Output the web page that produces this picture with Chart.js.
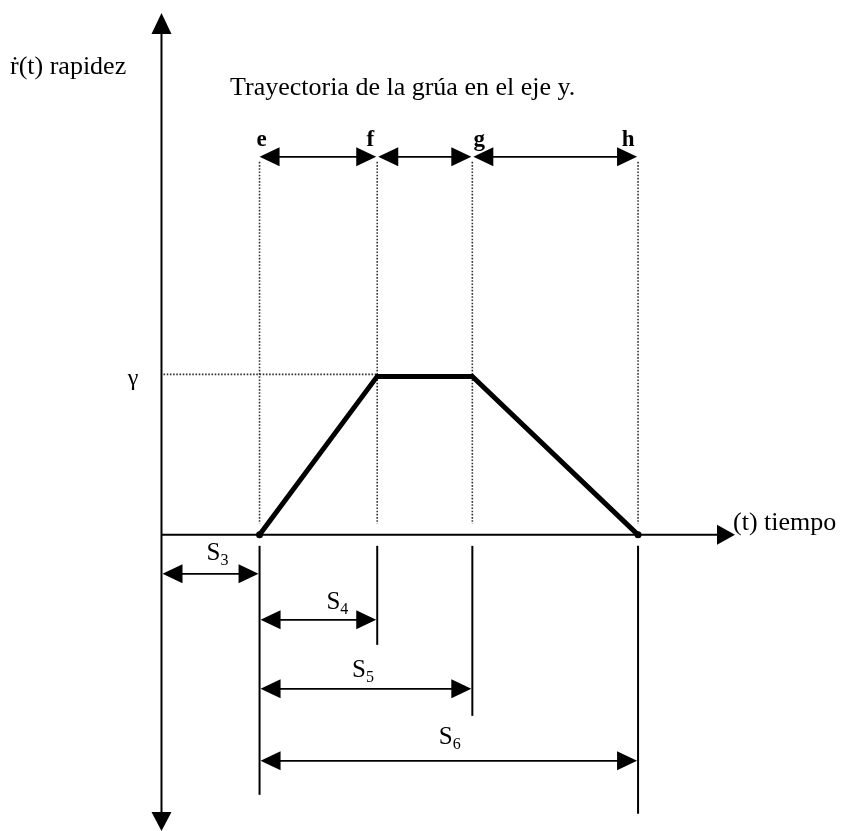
<!DOCTYPE html>
<html>
<head>
<meta charset="utf-8">
<script src="https://cdn.jsdelivr.net/npm/chart.js@4"></script>
<style>
html,body{margin:0;padding:0;background:#fff;}
#wrap{width:842px;height:831px;}
</style>
</head>
<body>
<div id="wrap"><canvas id="c" width="842" height="831"></canvas></div>
<script>
// ---- data ----
const pointLabels = ['e', 'f', 'g', 'h'];
const tPoints = [1.0, 2.2, 3.17, 4.86];       // time of e, f, g, h
const speed = [0, 1, 1, 0];                   // speed profile (γ = 1)
const gammaLabel = 'γ';
const yAxisTitle = 'ṙ(t) rapidez';
const xAxisTitle = '(t) tiempo';
const chartTitle = 'Trayectoria de la grúa en el eje y.';
const spanSubs = ['3', '4', '5', '6'];
const spanStartIdx = [-1, 0, 0, 0];           // -1 = origin
const spanEndIdx = [0, 1, 2, 3];

const SERIF = '"Liberation Serif", "Times New Roman", serif';

function arrowHead(ctx, x, y, dir, len, half) {
  ctx.beginPath();
  if (dir === 'l') { ctx.moveTo(x, y); ctx.lineTo(x + len, y - half); ctx.lineTo(x + len, y + half); }
  if (dir === 'r') { ctx.moveTo(x, y); ctx.lineTo(x - len, y - half); ctx.lineTo(x - len, y + half); }
  if (dir === 'u') { ctx.moveTo(x, y); ctx.lineTo(x - half, y + len); ctx.lineTo(x + half, y + len); }
  if (dir === 'd') { ctx.moveTo(x, y); ctx.lineTo(x - half, y - len); ctx.lineTo(x + half, y - len); }
  ctx.closePath();
  ctx.fill();
}

function dimLine(ctx, x1, x2, y) {
  ctx.lineWidth = 1.8;
  ctx.beginPath(); ctx.moveTo(x1 + 4, y); ctx.lineTo(x2 - 4, y); ctx.stroke();
  arrowHead(ctx, x1, y, 'l', 20, 9.5);
  arrowHead(ctx, x2, y, 'r', 20, 9.5);
}

function subLabel(ctx, base, sub, cx, cy) {
  ctx.font = '25px ' + SERIF;
  const w1 = ctx.measureText(base).width;
  ctx.font = '16px ' + SERIF;
  const w2 = ctx.measureText(sub).width;
  const x0 = cx - (w1 + w2) / 2;
  ctx.textBaseline = 'alphabetic';
  ctx.textAlign = 'left';
  ctx.font = '25px ' + SERIF;
  ctx.fillText(base, x0, cy + 8);
  ctx.font = '16px ' + SERIF;
  ctx.fillText(sub, x0 + w1, cy + 13);
}

const diagram = {
  id: 'diagram',
  beforeDatasetsDraw(chart) {
    const ctx = chart.ctx;
    const xs = chart.scales.x, ys = chart.scales.y;
    const ox = xs.getPixelForValue(0), oy = ys.getPixelForValue(0);
    const gy = ys.getPixelForValue(speed[1]);
    const px = tPoints.map(t => xs.getPixelForValue(t));
    ctx.save();
    ctx.fillStyle = '#000'; ctx.strokeStyle = '#000';

    // dotted guides
    ctx.strokeStyle = '#333';
    ctx.lineWidth = 1.6;
    ctx.setLineDash([1.6, 1.6]);
    const topArrowY = oy - 378;
    px.forEach(x => { ctx.beginPath(); ctx.moveTo(x, topArrowY + 5); ctx.lineTo(x, oy - 11); ctx.stroke(); });
    ctx.beginPath(); ctx.moveTo(ox + 2, gy - 2); ctx.lineTo(px[1], gy - 2); ctx.stroke();
    ctx.setLineDash([]);
    ctx.strokeStyle = '#000';

    // axes
    ctx.lineWidth = 2;
    ctx.beginPath(); ctx.moveTo(ox, 28); ctx.lineTo(ox, 815); ctx.stroke();
    arrowHead(ctx, ox, 13, 'u', 21, 10);
    arrowHead(ctx, ox, 831, 'd', 19, 10);
    ctx.beginPath(); ctx.moveTo(ox, oy); ctx.lineTo(722, oy); ctx.stroke();
    arrowHead(ctx, 735, oy, 'r', 18, 10);

    // top arrows between points
    for (let i = 0; i < px.length - 1; i++) {
      dimLine(ctx, px[i] + (i === 0 ? 0 : 1), px[i + 1] - 1, topArrowY);
    }

    // extension lines below axis
    const extEnds = [260, 110, 181, 279];
    ctx.lineWidth = 2;
    px.forEach((x, i) => { ctx.beginPath(); ctx.moveTo(x, oy + 11); ctx.lineTo(x, oy + extEnds[i]); ctx.stroke(); });

    // span dimension lines
    const spanY = [39, 85, 154, 226];
    const labelDy = [-22, -19, -20, -25];
    const labelDx = [7, 19, -3, 1];
    spanSubs.forEach((s, i) => {
      const x1 = spanStartIdx[i] < 0 ? ox : px[spanStartIdx[i]];
      const x2 = px[spanEndIdx[i]];
      const y = oy + spanY[i];
      dimLine(ctx, x1 + 1, x2 - 1, y);
      subLabel(ctx, 'S', s, (x1 + x2) / 2 + labelDx[i], y + labelDy[i]);
    });

    // texts
    ctx.textBaseline = 'middle';
    ctx.textAlign = 'left';
    ctx.font = '26px ' + SERIF;
    ctx.fillText(yAxisTitle, 10, 67);
    ctx.fillText(xAxisTitle, 733, oy - 12);
    ctx.fillText(chartTitle, 230, 88);
    ctx.textAlign = 'center';
    ctx.textBaseline = 'alphabetic';
    ctx.font = '24px ' + SERIF;
    ctx.fillText(gammaLabel, 133, gy + 9);
    ctx.font = 'bold 23px ' + SERIF;
    const lblDx = [2, -7, 7, -10];
    pointLabels.forEach((l, i) => ctx.fillText(l, px[i] + lblDx[i], 146));
    ctx.restore();
  }
};

new Chart(document.getElementById('c'), {
  type: 'line',
  data: {
    datasets: [{
      data: tPoints.map((t, i) => ({ x: t, y: speed[i] })),
      borderColor: '#000',
      backgroundColor: '#000',
      borderWidth: 5,
      borderJoinStyle: 'miter',
      borderCapStyle: 'round',
      pointRadius: [3.5, 0, 0, 3.5],
      pointBorderWidth: 0,
      tension: 0,
      fill: false
    }]
  },
  options: {
    responsive: false,
    animation: false,
    events: [],
    layout: { padding: 0 },
    plugins: { legend: { display: false }, tooltip: { enabled: false }, title: { display: false } },
    scales: {
      x: { type: 'linear', display: false, min: -159 / 99, max: (842 - 159) / 99 },
      y: { type: 'linear', display: false, min: -(831 - 536) / 160, max: 536 / 160 }
    }
  },
  plugins: [diagram]
});
</script>
</body>
</html>
